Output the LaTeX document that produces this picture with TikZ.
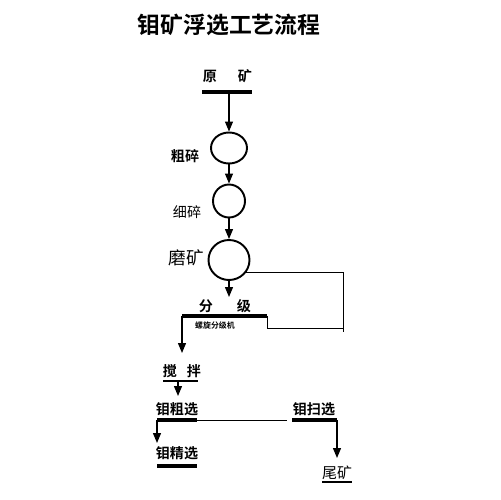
\documentclass[tikz,border=0pt]{standalone}
\usepackage{fontspec}
\newfontfamily\cjk{Noto Sans CJK SC}[BoldFont={Noto Sans CJK SC Bold}]
\usetikzlibrary{arrows.meta,shapes.geometric}
\begin{document}
\begin{tikzpicture}[x=0.02cm,y=-0.02cm,
  lbl/.style={font=\cjk\bfseries\fontsize{8}{8}\selectfont, inner sep=0},
  ttl/.style={font=\cjk\bfseries\fontsize{13}{13}\selectfont, inner sep=0},
  tiny/.style={font=\cjk\bfseries\fontsize{4.5}{4.5}\selectfont, inner sep=0},
  unit/.style={draw, line width=1.1pt, inner sep=0, ellipse},
  flow/.style={line width=0.7pt},
  arr/.style={flow, -{Triangle[length=0.2cm,width=0.16cm]}},
  bar/.style={line width=1.8pt},
  thinl/.style={line width=0.5pt}]
\useasboundingbox (0,0) rectangle (500,500);
\fill[white] (0,0) rectangle (500,500);
% title
\node[ttl] (title) at (229,25) {钼矿浮选工艺流程};
% raw ore
\node[lbl] (yuan) at (210,76) {原};
\node[lbl] (kuang) at (245,76) {矿};
\coordinate (ykL) at (202,92); \coordinate (ykR) at (252,92); \coordinate (ykM) at (229,92);
\draw[bar] (ykL) -- (ykR);
% crushers and mill
\node[unit, minimum width=36*0.02cm, minimum height=31*0.02cm] (c1) at (229,148) {};
\node[unit, minimum width=32*0.02cm, minimum height=33*0.02cm] (c2) at (229,201) {};
\node[unit, minimum width=41*0.02cm, minimum height=40*0.02cm] (c3) at (229,260) {};
\node[lbl] (l1) at (185,156) {粗碎};
\node[lbl, font=\cjk\fontsize{8}{8}\selectfont] (l2) at (187,212) {细碎};
\node[lbl, font=\cjk\fontsize{10}{10}\selectfont] (l3) at (186,258) {磨矿};
\draw[arr] (ykM) -- (c1.north);
\draw[arr] (c1.south) -- (c2.north);
\draw[arr] (c2.south) -- (c3.north);
\coordinate (fjTip) at (229,297);
\draw[arr] (c3.south) -- (fjTip);
% classifier
\node[lbl] (fen) at (206,306) {分};
\node[lbl] (ji) at (244,306) {级};
\coordinate (fjL) at (182,316); \coordinate (fjR) at (267,316);
\draw[bar] (fjL) -- (fjR);
\node[tiny] (lx) at (215,325) {螺旋分级机};
\coordinate (rtC) at (343,332);
\coordinate (rtB) at (343,328);
\coordinate (rtD) at (267,328);
\draw[thinl] (c3.-35) -| (rtC);
\draw[thinl] (fjR) -- (rtD) -- (rtB);
\coordinate (jbTip) at (182,353);
\draw[arr] (fjL) -- (jbTip);
% agitation
\node[lbl] (jiao) at (170,371) {搅};
\node[lbl] (ban) at (194,371) {拌};
\coordinate (jbL) at (163,381); \coordinate (jbR) at (198,381); \coordinate (jbM) at (178,381);
\draw[bar, line width=1.2pt] (jbL) -- (jbR);
\coordinate (cxTip) at (178,396);
\draw[arr] (jbM) -- (cxTip);
% rougher
\node[lbl] (cx) at (177,409) {钼粗选};
\coordinate (cxL) at (157,420); \coordinate (cxR) at (197,420);
\draw[bar] (cxL) -- (cxR);
% scavenger
\node[lbl] (sx) at (314,409) {钼扫选};
\coordinate (sxL) at (292,420); \coordinate (sxR) at (337,420);
\coordinate (sxE) at (287,420);
\draw[bar] (sxL) -- (sxR);
\draw[thinl] (cxR) -- (sxE);
\coordinate (wkTip) at (337,458);
\draw[arr] (sxR) -- (wkTip);
\node[lbl, font=\cjk\fontsize{8.5}{8.5}\selectfont] (wk) at (337,473) {尾矿};
\coordinate (wkL) at (322,482); \coordinate (wkR) at (352,482);
\draw[thinl, line width=0.8pt] (wkL) -- (wkR);
% cleaner
\coordinate (jxTip) at (157,443);
\draw[arr] (cxL) -- (jxTip);
\node[lbl] (jx) at (177,453) {钼精选};
\coordinate (jxL) at (157,466); \coordinate (jxR) at (197,466);
\draw[bar] (jxL) -- (jxR);
\end{tikzpicture}
\end{document}
